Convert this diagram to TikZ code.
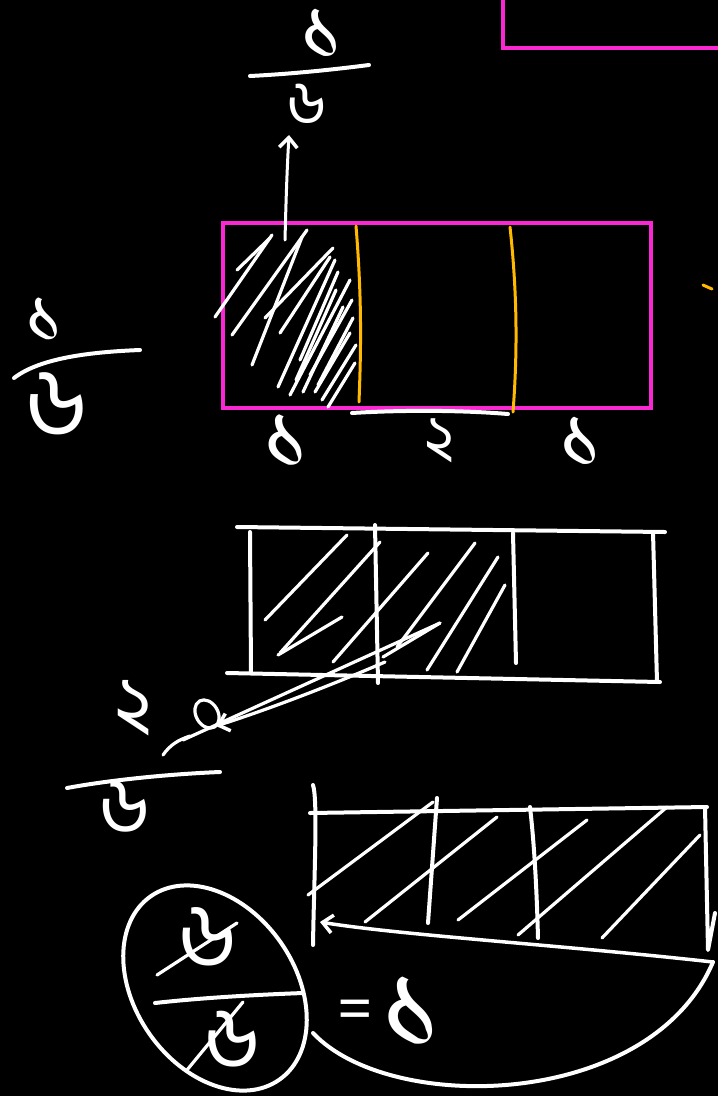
\documentclass[tikz,border=0pt]{standalone}
\usepackage{fontspec}
\usetikzlibrary{arrows.meta}
\newfontfamily\bn[Script=Bengali]{Hind Siliguri}
\definecolor{mag}{RGB}{250,40,210}
\definecolor{org}{RGB}{255,185,0}
\tikzset{
  ink/.style={draw=white,line width=4pt,line cap=round,line join=round},
  thin/.style={draw=white,line width=3.2pt,line cap=round,line join=round},
  magline/.style={draw=mag,line width=3.5pt},
  orgline/.style={draw=org,line width=3pt,line cap=round},
  dig/.style={text=white,inner sep=0pt,font=\bn\fontsize{#1}{#1}\selectfont},
  barb/.style={-{Straight Barb[length=10pt,width=18pt,line width=3.5pt]}}
}
\begin{document}
\begin{tikzpicture}[x=1pt,y=-1pt]
\fill[black] (0,0) rectangle (718,1096);
\useasboundingbox (0,0) rectangle (718,1096);

% ---------- top-right partial magenta box
\draw[magline] (503,-5) -- (503,48) -- (725,48);

% ---------- main magenta box
\draw[magline] (223,223) rectangle (651,408);
\draw[orgline] (356,226) .. controls (362,300) and (361,350) .. (359,402);
\draw[orgline] (510,227) .. controls (518,300) and (517,360) .. (513,412);
\draw[org,line width=3pt,line cap=round] (703,285) -- (712,289);

% hatching of first third
\foreach \a/\b in {{215,317}/{272,235},{237,270}/{270,238},{232,335}/{307,230},
  {252,365}/{302,237},{265,318}/{333,248},{278,387}/{335,260},{290,395}/{350,280},
  {303,392}/{343,307},{315,392}/{350,333},{328,407}/{355,363},{280,333}/{330,257},
  {310,375}/{352,300},{296,380}/{336,290},{322,400}/{356,345},{300,360}/{338,272},
  {318,385}/{353,318}}
  \draw[thin] (\a) -- (\b);

% arrow to the top fraction
\coordinate (arrS) at (285,240);
\coordinate (arrE) at (289,135);
\draw[ink,barb,line width=3pt] (arrS) .. controls (286,200) and (287,170) .. (arrE);

% top fraction
\node[dig=88] (tnum) at (322,34) {১};
\draw[ink] (250,76) .. controls (290,74) and (330,70) .. (369,65);
\node[dig=62] (tden) at (307,104) {৬};

% left fraction
\node[dig=78] (lnum) at (45,320) {১};
\draw[ink] (14,378) .. controls (40,358) and (90,352) .. (140,350);
\node[dig=98] (lden) at (56,405) {৬};

% underline and labels
\draw[ink] (352,413) .. controls (400,410) and (460,410) .. (508,414);
\node[dig=94] (l1) at (287,442) {১};
\node[dig=62] (l2) at (440,441) {২};
\node[dig=88] (l3) at (581,442) {১};

% ---------- second box (white)
\draw[ink] (237,527) -- (665,532);
\draw[ink] (250,532) -- (251,673);
\draw[ink] (653,532) -- (657,682);
\draw[ink] (227,673) -- (660,682);
\draw[ink] (375,525) -- (378,683);
\draw[ink] (513,533) -- (516,663);
\foreach \a/\b in {{265,620}/{347,535},{280,653}/{380,542},{278,655}/{342,617},
  {333,662}/{428,553},{383,657}/{440,623},{397,647}/{475,543},
  {427,670}/{498,557},{457,672}/{505,585}}
  \draw[thin] (\a) -- (\b);

% lines from the hatching to the lower-left fraction
\coordinate (h1) at (440,623);
\coordinate (h2) at (385,662);
\coordinate (tipA) at (183,740);
\coordinate (tipB) at (216,726);
\draw[thin] (h1) -- (tipA);
\draw[thin,barb] (h2) .. controls (320,690) and (260,712) .. (tipB);
\draw[thin] (163,755) .. controls (170,745) and (178,740) .. (190,736);
\draw[thin,rotate around={30:(207,714)}] (207,714) ellipse [x radius=11pt, y radius=15pt];

% lower-left fraction
\node[dig=78] (mnum) at (133,708) {২};
\draw[ink] (67,788) .. controls (110,780) and (170,774) .. (220,772);
\node[dig=80] (mden) at (125,807) {৬};

% ---------- third box
\draw[ink] (313,785) .. controls (318,800) and (314,880) .. (313,945);
\draw[ink] (310,813) -- (707,807);
\draw[ink] (705,807) -- (708,950) -- (715,913);
\draw[ink] (437,798) -- (428,923);
\draw[ink] (530,807) .. controls (535,850) and (537,900) .. (538,938);
\foreach \a/\b in {{308,895}/{433,802},{365,922}/{497,817},{458,920}/{587,820},
  {518,935}/{667,807},{602,938}/{700,835}}
  \draw[thin] (\a) -- (\b);
\coordinate (bR) at (713,962);
\coordinate (bL) at (320,922);
\draw[ink,barb,line width=3.5pt] (bR) .. controls (560,945) and (400,935) .. (bL);

% ---------- ellipse with the cancelled fraction
\coordinate (elc) at (215,988);
\draw[ink] [rotate around={-55:(elc)}] (elc) ellipse [x radius=112pt, y radius=80pt];
\node[dig=92] (enum) at (207,937) {৬};
\draw[thin] (157,975) -- (237,923);
\draw[ink] (155,1003) .. controls (200,998) and (250,995) .. (303,993);
\node[dig=88] (eden) at (232,1040) {৬};
\draw[thin] (187,1070) -- (243,1002);
\node[dig=64] (eq) at (355,1015) {=};
\node[dig=125] (res) at (413,1013) {১};

% big curve from the third box to the ellipse
\draw[ink] (bR) .. controls (650,1110) and (390,1115) .. (313,1033);
\end{tikzpicture}
\end{document}
